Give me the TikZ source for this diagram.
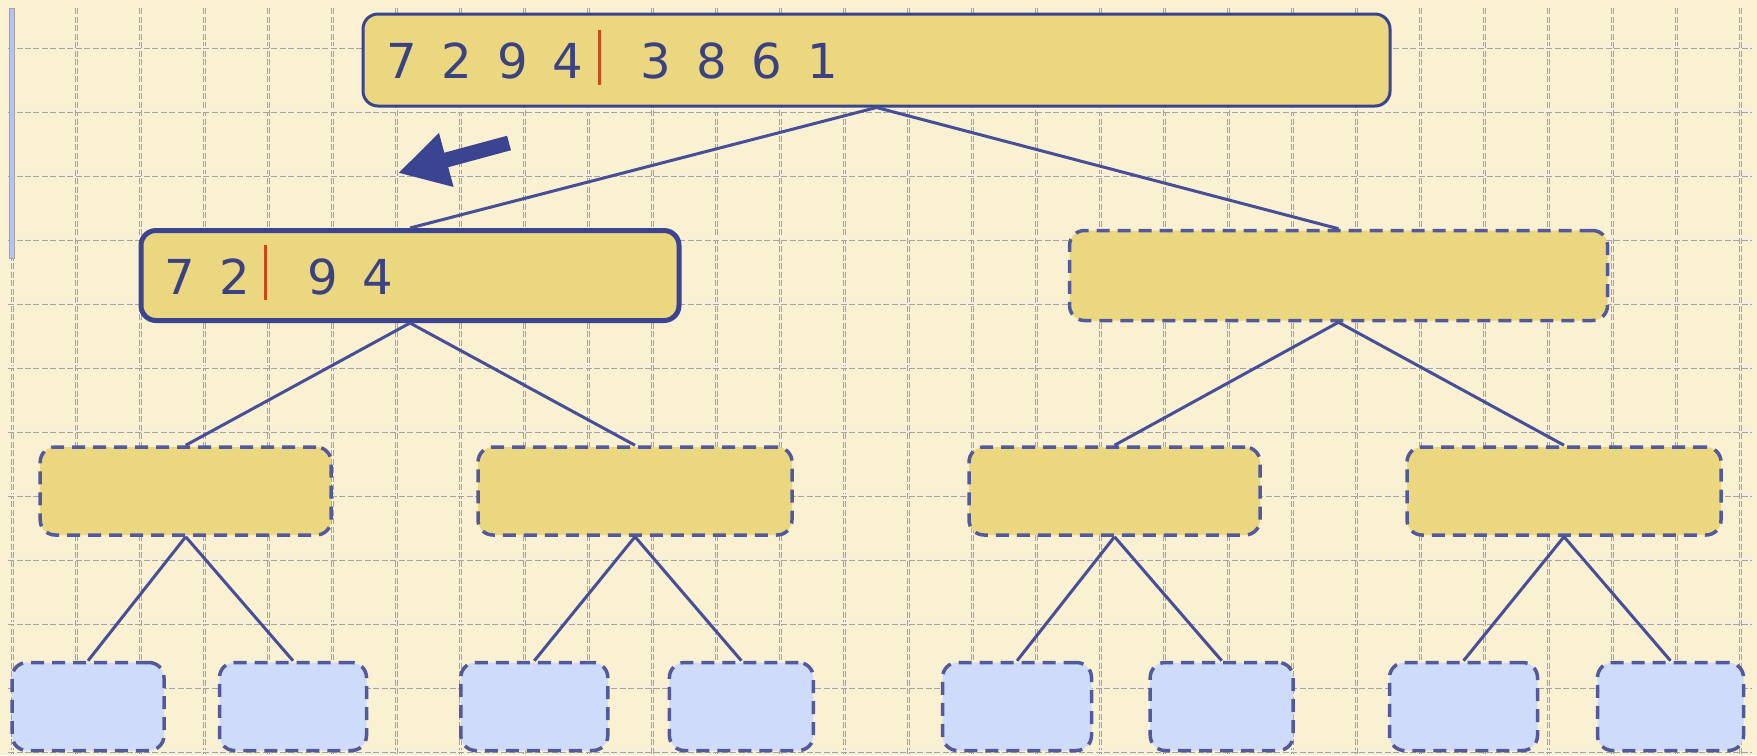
\documentclass[tikz,border=0pt]{standalone}
\usepackage{fontspec}
\setmainfont{DejaVu Sans}
\usepackage{tikz}
\usetikzlibrary{arrows.meta, positioning}
\definecolor{Cream}{HTML}{FAF0D2}
\definecolor{GridGray}{HTML}{A6A39C}
\definecolor{GridInner}{HTML}{F4EFE4}
\definecolor{BarBlue}{HTML}{B5C2F5}
\definecolor{BoxFill}{HTML}{EBD780}
\definecolor{LeafBlue}{HTML}{CEDBFA}
\definecolor{BoxNavy}{HTML}{3B4490}
\definecolor{DashNavy}{HTML}{535A9C}
\definecolor{LinkNavy}{HTML}{464F98}
\definecolor{DigitNavy}{HTML}{3A4282}
\definecolor{SplitRed}{HTML}{CC4A1A}

\newcommand{\dg}{\hspace{2.5mm}}
\newcommand{\splitbar}{\hspace{1.4mm}{\color{SplitRed}\rule[-0.6mm]{0.3mm}{5.5mm}}\hspace{4mm}}

\begin{document}
\begin{tikzpicture}[x=0.1mm, y=-0.1mm,
    gridline/.style={draw=GridGray, line width=0.09mm, double=GridInner, double distance=0.12mm, dash pattern=on 0.6mm off 0.25mm},
    sortbox/.style={rounded corners=1.5mm, fill=BoxFill, inner xsep=2.3mm, inner ysep=0mm,
        font=\fontsize{13.7pt}{16pt}\selectfont, text=DigitNavy, align=left, text height=3.75mm, text depth=0mm},
    topbox/.style={sortbox, draw=BoxNavy, line width=0.3mm},
    activebox/.style={sortbox, draw=BoxNavy, line width=0.5mm},
    pendbox/.style={sortbox, draw=DashNavy, line width=0.35mm, dash pattern=on 1.3mm off 0.8mm},
    leafbox/.style={pendbox, fill=LeafBlue},
    link/.style={draw=LinkNavy, line width=0.3mm},
    movearrow/.style={draw=BoxNavy, fill=BoxNavy, line width=1.5mm, -{Triangle[length=5mm, width=5.2mm]}}]

    % === Background and grid ===
    \fill[Cream] (0,0) rectangle (1757,755);
    \useasboundingbox (0,0) rectangle (1757,755);
    \foreach \gx in {0,...,27}
        \draw[gridline] ({12.7+64*\gx},8) -- ({12.7+64*\gx},755);
    \foreach \gy in {0,...,11}
        \draw[gridline] (8,{47+64*\gy}) -- (1752,{47+64*\gy});
    \draw[GridGray, fill=BarBlue, line width=0.1mm] (9,8) rectangle (14,258);

    % === Level 1: whole array ===
    \node[topbox, text width=98.1mm, minimum height=9.2mm] (root) at (876.5,60)
        {7\dg 2\dg 9\dg 4\splitbar 3\dg 8\dg 6\dg 1};

    % === Level 2: halves ===
    \node[activebox, text width=49.2mm, minimum height=9mm] (half1) at (410,275.5)
        {7\dg 2\splitbar 9\dg 4};
    \node[pendbox, minimum width=53.8mm, minimum height=9mm] (half2) at (1338.5,275.5) {};

    % === Level 3: quarters ===
    \node[pendbox, minimum width=29.1mm, minimum height=8.8mm] (q1) at (185.7,491) {};
    \node[pendbox, minimum width=31.4mm, minimum height=8.8mm] (q2) at (635,491) {};
    \node[pendbox, minimum width=29.1mm, minimum height=8.8mm] (q3) at (1114.5,491) {};
    \node[pendbox, minimum width=31.4mm, minimum height=8.8mm] (q4) at (1564,491) {};

    % === Level 4: single elements ===
    \node[leafbox, minimum width=15.2mm, minimum height=8.8mm] (s1) at (88,706.5) {};
    \node[leafbox, minimum width=14.7mm, minimum height=8.8mm] (s2) at (293,706.5) {};
    \node[leafbox, minimum width=14.7mm, minimum height=8.8mm] (s3) at (534.3,706.5) {};
    \node[leafbox, minimum width=14.4mm, minimum height=8.8mm] (s4) at (741.4,706.5) {};
    \node[leafbox, minimum width=14.9mm, minimum height=8.8mm] (s5) at (1017,706.5) {};
    \node[leafbox, minimum width=14.3mm, minimum height=8.8mm] (s6) at (1221.7,706.5) {};
    \node[leafbox, minimum width=14.8mm, minimum height=8.8mm] (s7) at (1463.5,706.5) {};
    \node[leafbox, minimum width=14.6mm, minimum height=8.8mm] (s8) at (1670.5,706.5) {};

    % Tree edges
    \draw[link] (root.south) -- (half1.north);
    \draw[link] (root.south) -- (half2.north);
    \draw[link] (half1.south) -- (q1.north);
    \draw[link] (half1.south) -- (q2.north);
    \draw[link] (half2.south) -- (q3.north);
    \draw[link] (half2.south) -- (q4.north);
    \draw[link] (q1.south) -- (s1.north);
    \draw[link] (q1.south) -- (s2.north);
    \draw[link] (q2.south) -- (s3.north);
    \draw[link] (q2.south) -- (s4.north);
    \draw[link] (q3.south) -- (s5.north);
    \draw[link] (q3.south) -- (s6.north);
    \draw[link] (q4.south) -- (s7.north);
    \draw[link] (q4.south) -- (s8.north);

    % Step arrow
    \coordinate (movetail) at (509,143);
    \coordinate (movetip) at (398,173);
    \draw[movearrow] (movetail) -- (movetip);

\end{tikzpicture}
\end{document}
